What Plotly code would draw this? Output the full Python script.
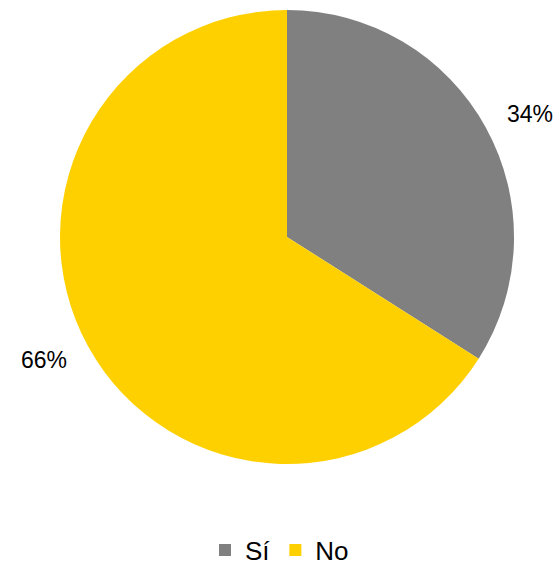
import math
import plotly.graph_objects as go

labels = ["Sí", "No"]
values = [34, 66]
colors = ["#808080", "#FFD000"]

W, H = 559, 565
cx, cy, R = 287, 237, 227  # pie centre and radius in pixels

dom_x = [(cx - R) / W, (cx + R) / W]
dom_y = [1 - (cy + R) / H, 1 - (cy - R) / H]

fig = go.Figure(go.Pie(
    labels=labels,
    values=values,
    marker=dict(colors=colors, line=dict(width=0)),
    sort=False,
    direction="clockwise",
    rotation=0,
    textinfo="none",
    hoverinfo="label+percent",
    domain=dict(x=dom_x, y=dom_y),
))

# percentage labels placed outside each slice, near its mid-angle
total = sum(values)
start = 0.0
annotations = []
for v in values:
    frac = v / total
    mid = (start + frac / 2) * 2 * math.pi + math.radians(2)
    start += frac
    r = 1.2 * R
    px = cx + r * math.sin(mid)
    py = cy - r * math.cos(mid)
    annotations.append(dict(
        x=px / W, y=1 - py / H, xref="paper", yref="paper",
        text=f"{round(frac * 100)}%", showarrow=False,
        font=dict(family="Liberation Sans, Arial, sans-serif", size=23, color="#000000"),
        xanchor="center", yanchor="middle",
    ))

fig.update_layout(
    width=W, height=H,
    margin=dict(l=0, r=0, t=0, b=0, autoexpand=False),
    paper_bgcolor="white",
    plot_bgcolor="white",
    annotations=annotations,
    showlegend=True,
    legend=dict(
        orientation="h", x=0.5, xanchor="center", y=1 - 550 / H, yanchor="middle",
        font=dict(family="Liberation Sans, Arial, sans-serif", size=26, color="#000000"),
        tracegroupgap=0,
    ),
)

fig.write_html("out.html")
